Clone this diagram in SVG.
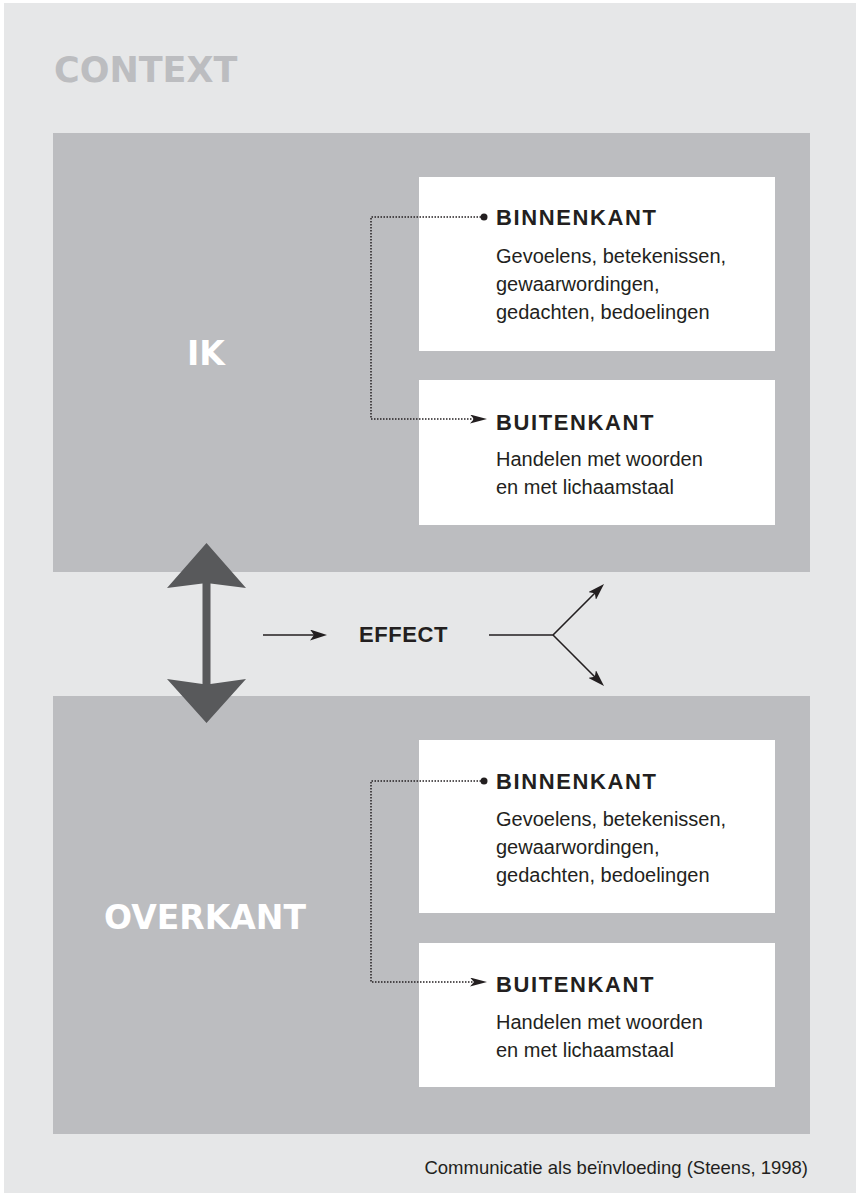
<svg xmlns="http://www.w3.org/2000/svg" width="856" height="1193" viewBox="0 0 856 1193">
<style>
.big{font-family:"DejaVu Sans",sans-serif;font-weight:bold;fill:#ffffff;font-size:33px;text-anchor:middle}
.ctx{font-family:"DejaVu Sans",sans-serif;font-weight:bold;fill:#bcbdc0;font-size:35px}
.head{font-family:"Liberation Sans",Arial,sans-serif;font-weight:bold;fill:#231f20;font-size:22px;letter-spacing:1.6px}
.body{font-family:"Liberation Sans",Arial,sans-serif;fill:#231f20;font-size:20px}
.cap{font-family:"Liberation Sans",Arial,sans-serif;fill:#231f20;font-size:18.5px;text-anchor:end}
.panel{fill:#bcbdc0}
.card{fill:#ffffff}
.dot{fill:none;stroke:#231f20;stroke-width:1.5;stroke-dasharray:1.5 1.5}
.line{fill:none;stroke:#231f20;stroke-width:1.6}
</style>
<defs>
<marker id="arr" viewBox="0 0 17 11" refX="13" refY="5.5" markerWidth="17" markerHeight="11" markerUnits="userSpaceOnUse" orient="auto">
<path d="M0,0 L17,5.5 L0,11 L4,5.5 Z" fill="#231f20"/>
</marker>
<marker id="arrs" viewBox="0 0 17 9" refX="13" refY="4.5" markerWidth="17" markerHeight="9" markerUnits="userSpaceOnUse" orient="auto">
<path d="M0,0 L17,4.5 L0,9 L4,4.5 Z" fill="#231f20"/>
</marker>
</defs>
<rect x="4" y="3" width="852" height="1190" fill="#e6e7e8"/>
<text class="ctx" x="54" y="82">CONTEXT</text>

<g id="ik">
<rect class="panel" x="53" y="133" width="757" height="439"/>
<text class="big" x="206" y="365">IK</text>
</g>
<g id="ik-binnenkant">
<rect class="card" x="419" y="177" width="356" height="174"/>
<text class="head" x="496" y="225">BINNENKANT</text>
<text class="body" x="496" y="263">Gevoelens, betekenissen,</text>
<text class="body" x="496" y="291">gewaarwordingen,</text>
<text class="body" x="496" y="319">gedachten, bedoelingen</text>
</g>
<g id="ik-buitenkant">
<rect class="card" x="419" y="380" width="356" height="145"/>
<text class="head" x="496" y="430">BUITENKANT</text>
<text class="body" x="496" y="466">Handelen met woorden</text>
<text class="body" x="496" y="494">en met lichaamstaal</text>
</g>

<g id="overkant">
<rect class="panel" x="53" y="696" width="757" height="438"/>
<text class="big" x="205" y="929">OVERKANT</text>
</g>
<g id="overkant-binnenkant">
<rect class="card" x="419" y="740" width="356" height="173"/>
<text class="head" x="496" y="789">BINNENKANT</text>
<text class="body" x="496" y="826">Gevoelens, betekenissen,</text>
<text class="body" x="496" y="854">gewaarwordingen,</text>
<text class="body" x="496" y="882">gedachten, bedoelingen</text>
</g>
<g id="overkant-buitenkant">
<rect class="card" x="419" y="943" width="356" height="144"/>
<text class="head" x="496" y="992">BUITENKANT</text>
<text class="body" x="496" y="1029">Handelen met woorden</text>
<text class="body" x="496" y="1057">en met lichaamstaal</text>
</g>

<g id="effect">
<text class="head" x="359" y="642" style="letter-spacing:0.6px">EFFECT</text>
</g>

<g id="connectors">
<polygon points="206.5,543 246,588 210.5,583.5 210.5,684 246,679 206.5,723 167,679 202.5,684 202.5,583.5 167,588" fill="#58595b"/>
<path class="dot" d="M481,217 H371 V419 H483" marker-end="url(#arrs)"/>
<circle cx="484" cy="217" r="3.5" fill="#231f20"/>
<path class="dot" d="M481,781 H371 V982 H483" marker-end="url(#arrs)"/>
<circle cx="484" cy="781" r="3.5" fill="#231f20"/>
<line class="line" x1="263" y1="635" x2="323" y2="635" marker-end="url(#arr)"/>
<path class="line" d="M489,635 H553 L601.2,586.8" marker-end="url(#arr)"/>
<path class="line" d="M553,635 L601.2,683.2" marker-end="url(#arr)"/>
</g>

<text class="cap" x="808" y="1174">Communicatie als beïnvloeding (Steens, 1998)</text>
</svg>
